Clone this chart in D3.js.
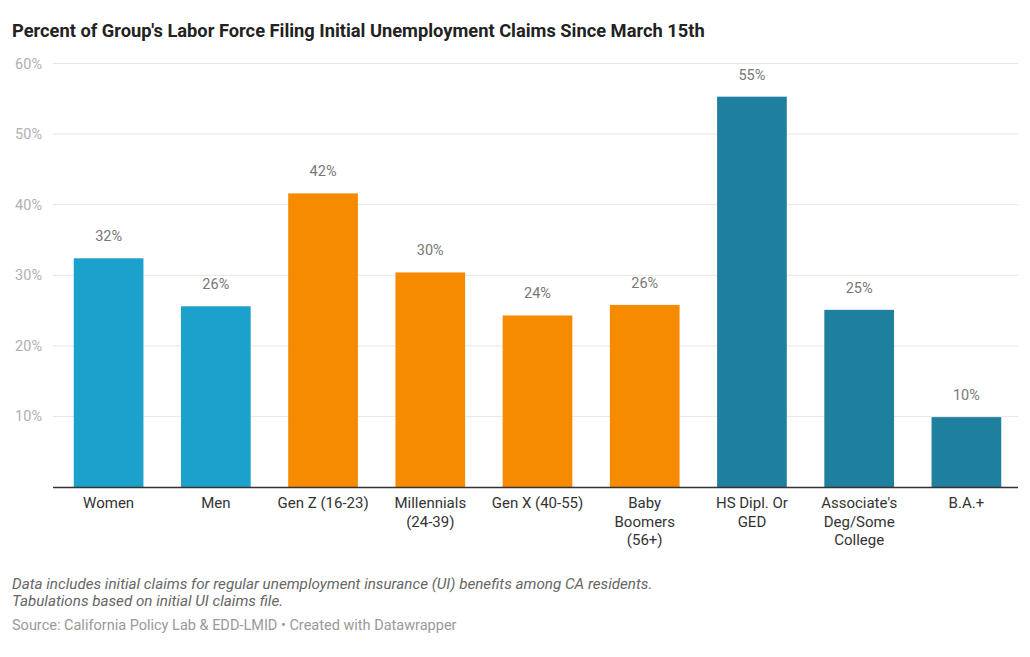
<!DOCTYPE html>
<html>
<head>
<meta charset="utf-8">
<script src="https://cdn.jsdelivr.net/npm/d3@7"></script>
<style>
  body { margin: 0; background: #fff; }
  svg text { font-family: Roboto, "Noto Sans", sans-serif; }
</style>
</head>
<body>
<svg width="1030" height="657"></svg>
<script>
// data
const categories = ["Women", "Men", "Gen Z (16-23)", "Millennials\n(24-39)", "Gen X (40-55)",
                    "Baby\nBoomers\n(56+)", "HS Dipl. Or\nGED", "Associate's\nDeg/Some\nCollege", "B.A.+"];
const values     = [32.4, 25.6, 41.6, 30.4, 24.3, 25.8, 55.3, 25.1, 9.9];
const groups     = ["sex", "sex", "age", "age", "age", "age", "edu", "edu", "edu"];
const yTicks     = [10, 20, 30, 40, 50, 60];

const groupColor = { sex: "#1ba1cc", age: "#f78b00", edu: "#1f7f9f" };

const svg = d3.select("svg");

const x = d3.scaleBand()
    .domain(categories)
    .range([55, 1020])
    .paddingInner(0.35)
    .paddingOuter(0.175);

const y = d3.scaleLinear()
    .domain([0, 60])
    .range([487, 63.5]);

// title
svg.append("text")
    .attr("x", 12).attr("y", 37)
    .attr("font-size", 18.3).attr("font-weight", 700)
    .attr("fill", "#222")
    .text("Percent of Group's Labor Force Filing Initial Unemployment Claims Since March 15th");

// gridlines + y labels
svg.append("g").selectAll("line")
    .data(yTicks)
    .enter().append("line")
    .attr("x1", 53).attr("x2", 1018)
    .attr("y1", d => y(d)).attr("y2", d => y(d))
    .attr("stroke", "#e6e6e6").attr("stroke-width", 1);

svg.append("g").selectAll("text")
    .data(yTicks)
    .enter().append("text")
    .attr("x", 42).attr("y", d => y(d) + 5)
    .attr("text-anchor", "end")
    .attr("font-size", 14.5)
    .attr("fill", "#b0b0b0")
    .text(d => d + "%");

// bars
svg.append("g").selectAll("rect")
    .data(values)
    .enter().append("rect")
    .attr("x", (d, i) => x(categories[i]))
    .attr("width", x.bandwidth())
    .attr("y", d => y(d))
    .attr("height", d => y(0) - y(d))
    .attr("fill", (d, i) => groupColor[groups[i]]);

// value labels
svg.append("g").selectAll("text")
    .data(values)
    .enter().append("text")
    .attr("x", (d, i) => x(categories[i]) + x.bandwidth() / 2)
    .attr("y", d => y(d) - 17)
    .attr("text-anchor", "middle")
    .attr("font-size", 14.5)
    .attr("fill", "#777")
    .text(d => Math.round(d) + "%");

// baseline
svg.append("line")
    .attr("x1", 53).attr("x2", 1018)
    .attr("y1", y(0) + 0.5).attr("y2", y(0) + 0.5)
    .attr("stroke", "#333").attr("stroke-width", 1.5);

// category labels
const xl = svg.append("g").selectAll("text")
    .data(categories)
    .enter().append("text")
    .attr("x", d => x(d) + x.bandwidth() / 2)
    .attr("y", 508)
    .attr("text-anchor", "middle")
    .attr("font-size", 15)
    .attr("fill", "#333");

xl.selectAll("tspan")
    .data(d => d.split("\n"))
    .enter().append("tspan")
    .attr("x", function () { return d3.select(this.parentNode).attr("x"); })
    .attr("dy", (d, i) => i ? 18.5 : 0)
    .text(d => d);

// notes
const notes = ["Data includes initial claims for regular unemployment insurance (UI) benefits among CA residents.",
               "Tabulations based on initial UI claims file."];
svg.append("g").selectAll("text")
    .data(notes)
    .enter().append("text")
    .attr("x", 12).attr("y", (d, i) => 589 + i * 17)
    .attr("font-size", 15.2).attr("font-style", "italic")
    .attr("fill", "#666")
    .text(d => d);

svg.append("text")
    .attr("x", 12).attr("y", 630)
    .attr("font-size", 14.5)
    .attr("fill", "#999")
    .text("Source: California Policy Lab & EDD-LMID \u2022 Created with Datawrapper");
</script>
</body>
</html>
